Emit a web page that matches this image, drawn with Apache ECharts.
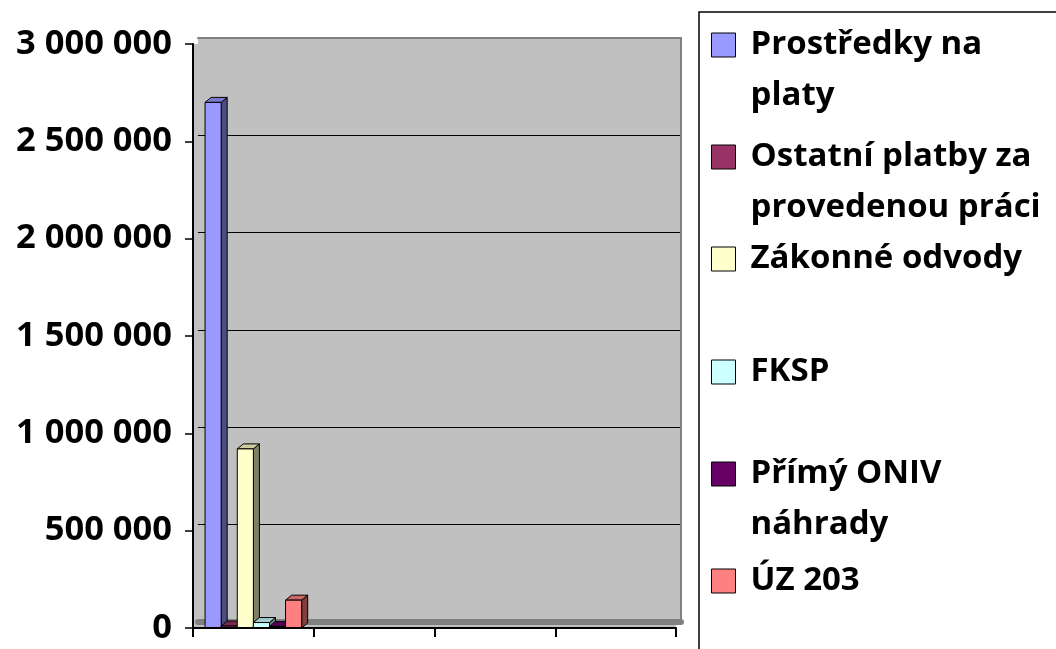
<!DOCTYPE html>
<html>
<head>
<meta charset="utf-8">
<script src="https://cdn.jsdelivr.net/npm/echarts@6/dist/echarts.min.js"></script>
<style>
html,body{margin:0;padding:0;background:#fff;}
#chart{width:1056px;height:649px;}
</style>
</head>
<body>
<div id="chart"></div>
<script>
// ---- data ----
var categories = ['', '', '', ''];
var seriesNames = ['Prostředky na platy', 'Ostatní platby za provedenou práci', 'Zákonné odvody', 'FKSP', 'Přímý ONIV náhrady', 'ÚZ 203'];
var legendLabels = ['Prostředky na\nplaty', 'Ostatní platby za\nprovedenou práci', 'Zákonné odvody', 'FKSP', 'Přímý ONIV\nnáhrady', 'ÚZ 203'];
var prostredky = [2700000];
var ostatni = [10000];
var zakonne = [920000];
var fksp = [28000];
var primy = [8000];
var uz203 = [143000];
var yTicks = { min: 0, max: 3000000, interval: 500000 };

var seriesValues = [prostredky, ostatni, zakonne, fksp, primy, uz203];
var faceColors = [
  ['#9999FF', '#4D4D80', '#7A7ACC'],
  ['#993366', '#4D1A33', '#7A2952'],
  ['#FFFFCC', '#808066', '#CCCCA3'],
  ['#CCFFFF', '#668080', '#A3CCCC'],
  ['#660066', '#330033', '#520052'],
  ['#FF8080', '#804040', '#CC6666']
];
var legendIconCenters = [45, 157, 259, 372, 474, 581];

var FONT = '"Open Sans", "Noto Sans", sans-serif';
var FS = 33;
var LH = 51;
var DX = 6, DY = -5;

function fmt(v) { return String(v).replace(/\B(?=(\d{3})+(?!\d))/g, ' '); }

function makeRender(si) {
  return function (params, api) {
    var cat = api.value(0), val = api.value(1);
    var base = api.coord([cat, 0]);
    var top = api.coord([cat, val]);
    var catW = api.size([1, 0])[0];
    var bw = catW * 0.8 / 6;
    var x0 = base[0] - catW / 2 + catW * 0.1 + si * bw;
    var yT = top[1], yB = base[1];
    var c = faceColors[si];
    var st = { stroke: '#000', lineWidth: 1 };
    return {
      type: 'group',
      children: [
        { type: 'polygon', shape: { points: [[x0 + bw, yT], [x0 + bw + DX, yT + DY], [x0 + bw + DX, yB + DY], [x0 + bw, yB]] },
          style: Object.assign({ fill: c[1] }, st) },
        { type: 'polygon', shape: { points: [[x0, yT], [x0 + DX, yT + DY], [x0 + bw + DX, yT + DY], [x0 + bw, yT]] },
          style: Object.assign({ fill: c[2] }, st) },
        { type: 'rect', shape: { x: x0, y: yT, width: bw, height: yB - yT },
          style: Object.assign({ fill: c[0] }, st) }
      ]
    };
  };
}

var series = seriesNames.map(function (name, si) {
  return {
    type: 'custom',
    name: name,
    xAxisIndex: 0,
    yAxisIndex: 0,
    z: 3,
    itemStyle: { color: faceColors[si][0] },
    renderItem: makeRender(si),
    data: seriesValues[si].map(function (v, i) { return [i, v]; })
  };
});

var legends = seriesNames.map(function (name, si) {
  var two = legendLabels[si].indexOf('\n') >= 0;
  return {
    data: [name],
    left: 711,
    top: legendIconCenters[si] - (two ? 1.5 * LH : 0.5 * LH),
    padding: 0,
    icon: 'rect',
    itemWidth: 24,
    itemHeight: 24,
    selectedMode: false,
    itemStyle: { borderColor: '#000', borderWidth: 1 },
    formatter: function () { return two ? ' \n' + legendLabels[si] : legendLabels[si]; },
    textStyle: {
      fontFamily: FONT, fontWeight: 'bold', fontSize: FS, color: '#000',
      lineHeight: LH,
      padding: [0, 0, 0, 10]
    }
  };
});

var chart = echarts.init(document.getElementById('chart'), null, { renderer: 'canvas' });
chart.setOption({
  animation: false,
  backgroundColor: '#fff',
  grid: [
    { left: 193, right: 380, top: 44, bottom: 21, show: true, backgroundColor: '#C0C0C0', borderWidth: 0, z: 0 },
    { left: 198, right: 375, top: 38, bottom: 27, show: true, backgroundColor: '#C0C0C0', borderWidth: 0, z: 1 }
  ],
  xAxis: [
    { gridIndex: 0, type: 'category', data: categories, z: 4,
      axisLine: { lineStyle: { color: '#000', width: 2 } },
      axisTick: { show: true, length: 9, lineStyle: { color: '#000', width: 2 } },
      axisLabel: { show: false }, splitLine: { show: false } },
    { gridIndex: 1, type: 'category', data: categories, position: 'bottom', offset: 3, z: 2,
      axisLine: { lineStyle: { color: '#808080', width: 6 } },
      axisTick: { show: false }, axisLabel: { show: false }, splitLine: { show: false } },
    { gridIndex: 1, type: 'category', data: categories, position: 'top', z: 2,
      axisLine: { lineStyle: { color: '#808080', width: 2 } },
      axisTick: { show: false }, axisLabel: { show: false }, splitLine: { show: false } }
  ],
  yAxis: [
    { gridIndex: 0, type: 'value', min: yTicks.min, max: yTicks.max, interval: yTicks.interval, z: 4,
      axisLine: { show: true, lineStyle: { color: '#000', width: 2 } },
      axisTick: { show: true, length: 8, lineStyle: { color: '#000', width: 1.5 } },
      axisLabel: { margin: 21, formatter: fmt, fontFamily: FONT, fontWeight: 'bold', fontSize: 34.5, color: '#000' },
      splitLine: { show: false } },
    { gridIndex: 1, type: 'value', min: yTicks.min, max: yTicks.max, interval: yTicks.interval, position: 'right', z: 2,
      axisLine: { show: true, lineStyle: { color: '#808080', width: 2 } },
      axisTick: { show: false }, axisLabel: { show: false },
      splitLine: { show: true, lineStyle: { color: '#000', width: 1 } } }
  ],
  legend: legends,
  graphic: [
    { type: 'rect', shape: { x: 699, y: 12, width: 500, height: 800 },
      style: { fill: 'none', stroke: '#000', lineWidth: 1.5 }, z: 10, silent: true }
  ],
  series: series
});
</script>
</body>
</html>
